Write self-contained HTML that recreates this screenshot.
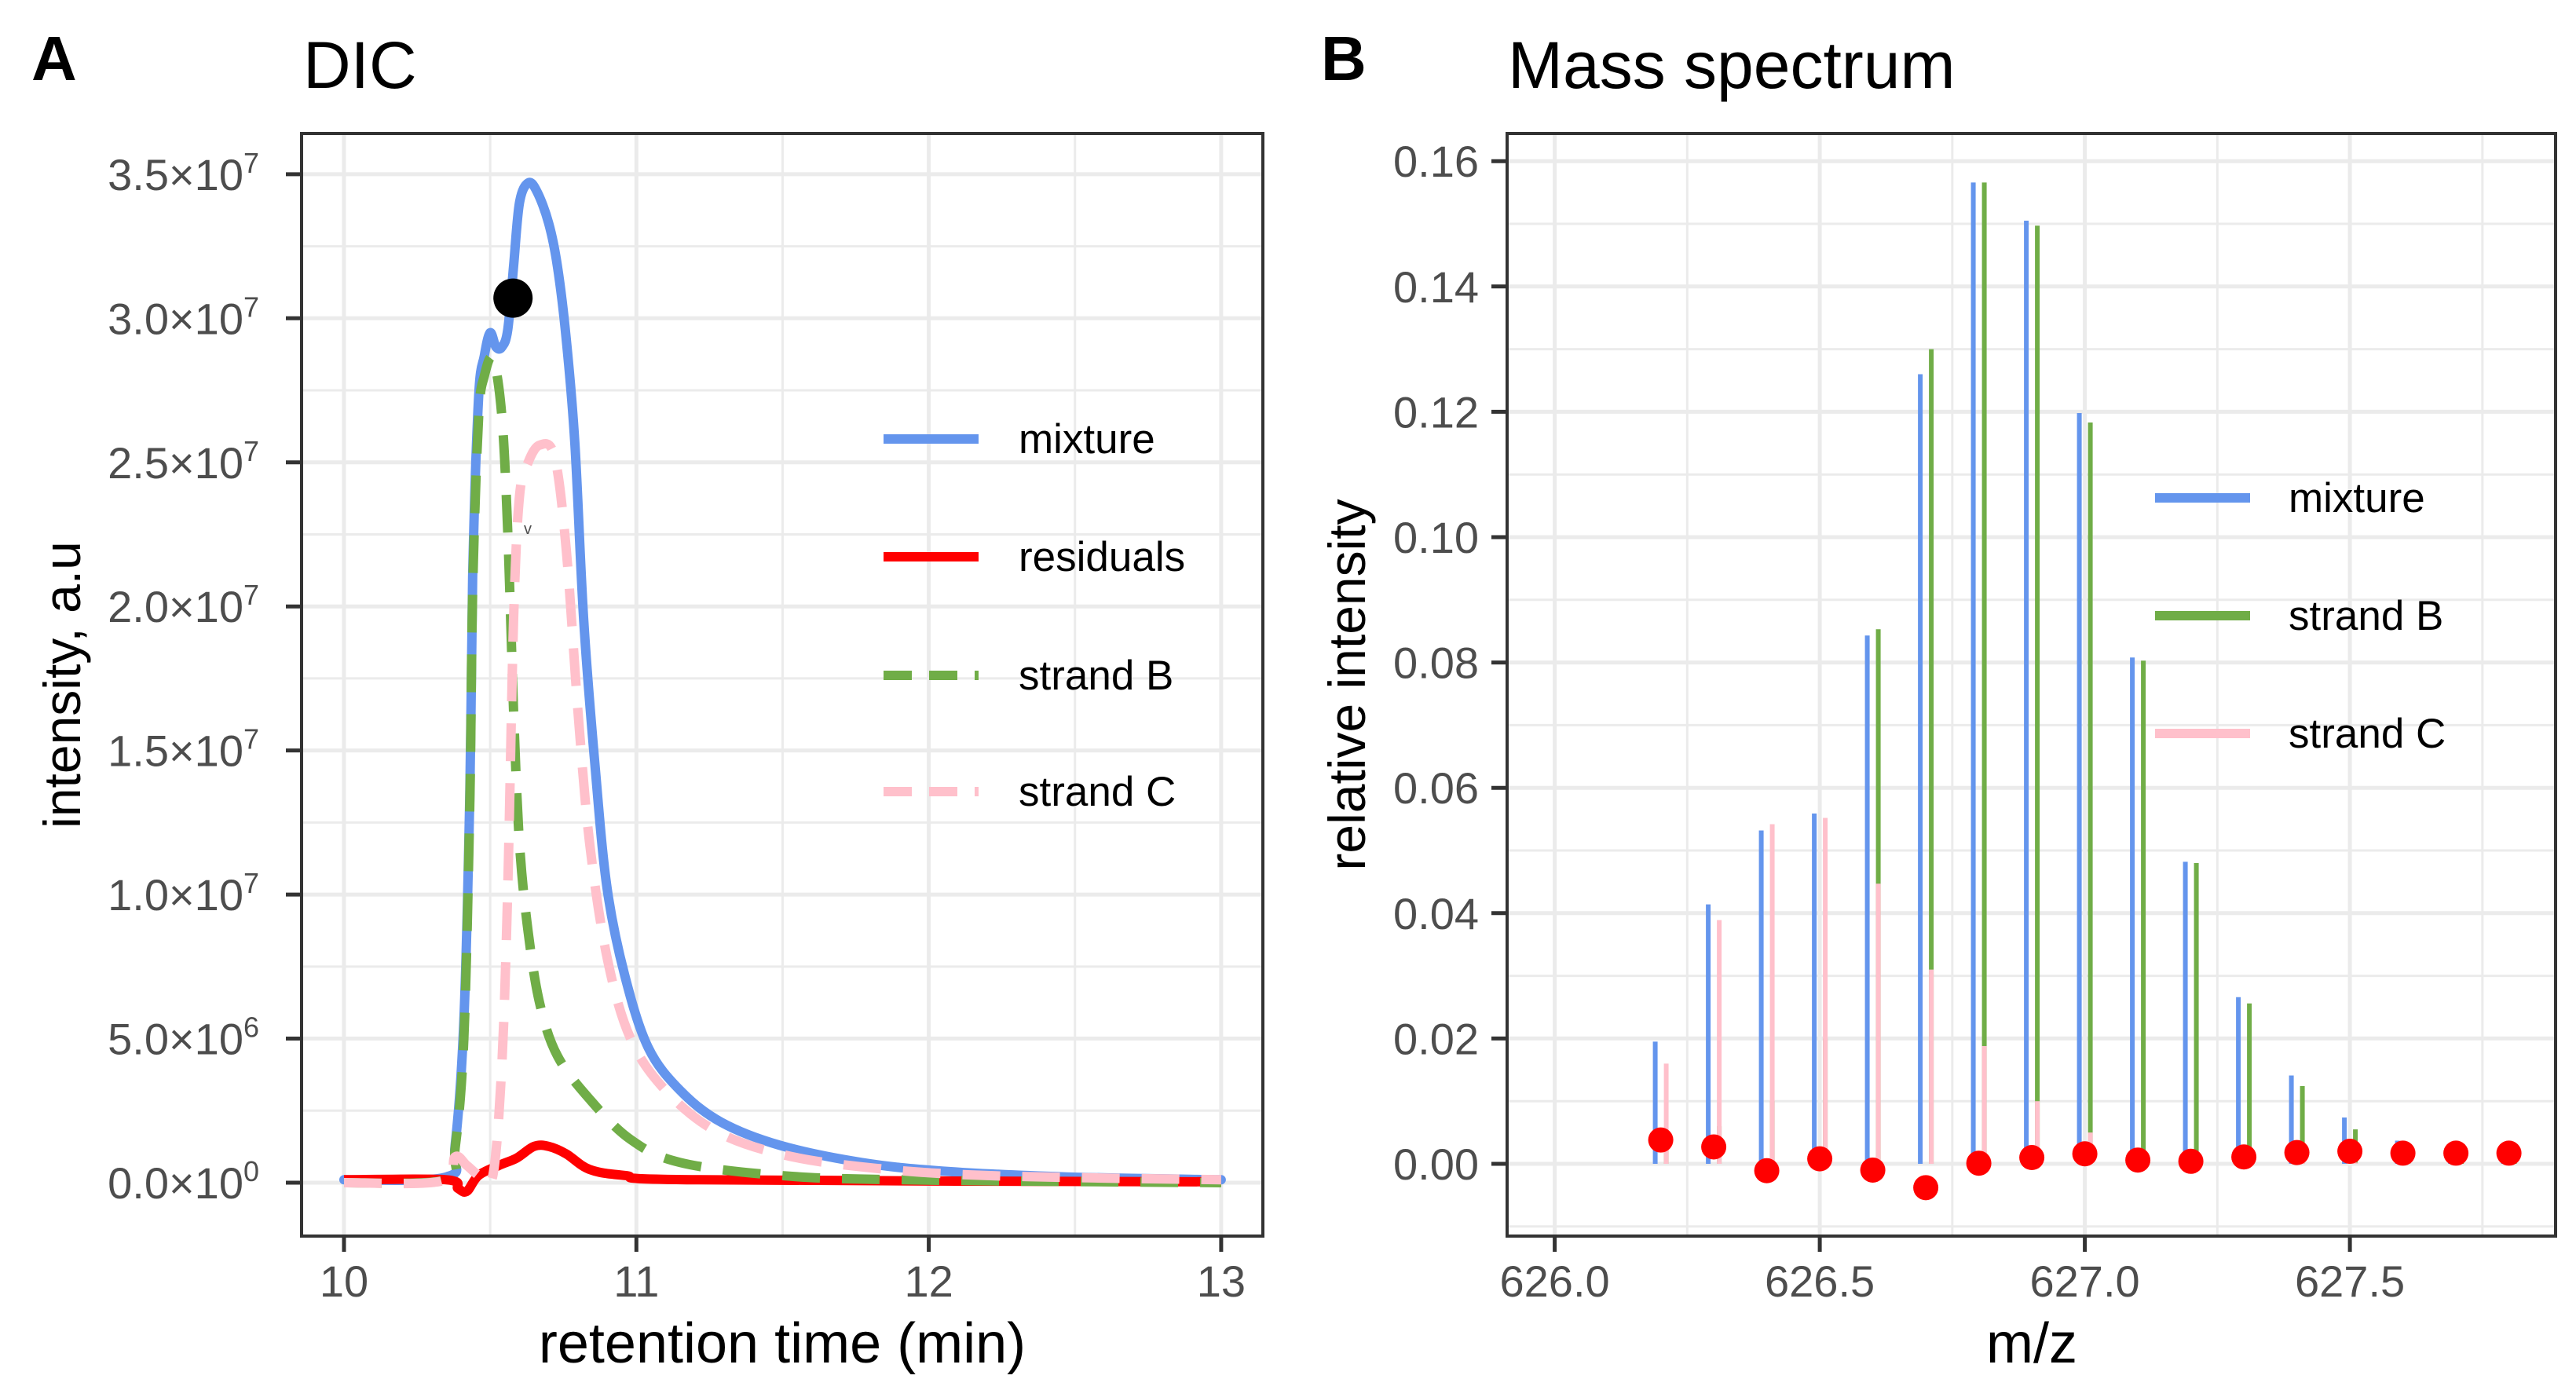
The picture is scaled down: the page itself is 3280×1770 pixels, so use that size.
<!DOCTYPE html>
<html><head><meta charset="utf-8"><style>
html,body{margin:0;padding:0;background:#fff;}
svg{display:block;font-family:"Liberation Sans",Arial,sans-serif;}
</style></head><body>
<svg id="fig" width="3280" height="1770" viewBox="0 0 3280 1770" xmlns="http://www.w3.org/2000/svg">
<rect width="3280" height="1770" fill="#fff"/>
<g id="pa"></g>
<g id="pb"></g>
</svg>
<script>
// ---------- Panel A data ----------
const mixT = [10,10.35,10.38,10.41,10.43,10.44,10.46,10.48,10.50,10.52,10.54,10.56,10.58,10.60,10.63,10.66,10.70,10.73,10.76,10.79,10.82,10.86,10.90,10.96,11.04,11.15,11.29,11.49,11.77,12.05,12.47,13];
const mixV = [0.01,0.02,0.13,0.56,1.33,2.1,2.72,2.87,2.95,2.9,2.9,2.96,3.18,3.4,3.47,3.44,3.33,3.18,2.93,2.56,1.95,1.43,1.02,0.72,0.47,0.32,0.21,0.13,0.07,0.04,0.02,0.01];
const bT = [10,10.35,10.38,10.41,10.43,10.44,10.46,10.48,10.51,10.54,10.56,10.58,10.60,10.63,10.67,10.73,10.84,10.98,11.15,11.49,11.91,13];
const bV = [0,0.01,0.12,0.5,1.3,2.05,2.65,2.8,2.86,2.66,2.26,1.64,1.18,0.87,0.62,0.44,0.29,0.15,0.07,0.025,0.01,0];
const cT = [10,10.33,10.38,10.42,10.47,10.51,10.54,10.56,10.58,10.60,10.63,10.67,10.72,10.76,10.80,10.84,10.90,10.98,11.10,11.27,11.49,11.77,12.19,13];
const cV = [0,0.005,0.09,0.06,0.02,0.03,0.41,1.02,1.95,2.38,2.5,2.56,2.52,2.2,1.64,1.18,0.78,0.5,0.32,0.18,0.1,0.055,0.025,0.01];
const rT = [10,10.35,10.39,10.42,10.46,10.53,10.59,10.65,10.70,10.76,10.84,10.96,11.21,13];
const rV = [0.01,0.01,-0.02,-0.03,0.025,0.06,0.085,0.126,0.126,0.1,0.046,0.025,0.01,0.003];
const peakT = [10.578];
const peakV = [3.07];
const aYTicks = [0,0.5,1,1.5,2,2.5,3,3.5];
const aYLabels = ["0.0","5.0","1.0","1.5","2.0","2.5","3.0","3.5"];
const aYExp = ["0","6","7","7","7","7","7","7"];
const aXTicks = [10,11,12,13];
// ---------- Panel B data ----------
const mz = [626.2,626.3,626.4,626.5,626.6,626.7,626.8,626.9,627.0,627.1,627.2,627.3,627.4,627.5,627.6,627.7,627.8];
const mixI = [0.0195,0.0414,0.0532,0.0559,0.0843,0.126,0.1566,0.1505,0.1198,0.0808,0.0482,0.0266,0.0141,0.0074,0.0037,0.0005,0.0003];
const strandB = [0.003,0.006,0.01,0.02,0.0853,0.130,0.1566,0.1497,0.1183,0.0803,0.048,0.0256,0.0124,0.0055,0.002,0.0005,0.0003];
const strandC = [0.016,0.0389,0.0542,0.0552,0.0447,0.031,0.0188,0.010,0.005,0.002,0.001,0.0005,0.0003,0.0002,0.0001,0,0];
const resid = [0.0038,0.0027,-0.0011,0.0008,-0.001,-0.0038,0.0001,0.001,0.0016,0.0006,0.0004,0.0011,0.0018,0.002,0.0017,0.0017,0.0017];
const bYTicks = [0,0.02,0.04,0.06,0.08,0.10,0.12,0.14,0.16];
const bXTicks = [626.0,626.5,627.0,627.5];

const NS="http://www.w3.org/2000/svg";
function mk(parent,tag,attrs,text){const e=document.createElementNS(NS,tag);for(const k in attrs)e.setAttribute(k,attrs[k]);if(text!==undefined)e.textContent=text;parent.appendChild(e);return e;}

// ---------- Panel A ----------
const A={L:384,R:1608,T:170,B:1574};
const ax=t=>438+(t-10)*372.3;
const ay=v=>1506-v*366.9;
const pa=document.getElementById('pa');
let e;
e=mk(pa,'text',{x:40,y:102,'font-size':80,'font-weight':'bold',fill:'#000'},'A');


e=mk(pa,'text',{x:386,y:112,'font-size':84,fill:'#000'},'DIC');


for(let v=0.25;v<3.6;v+=0.5){e=mk(pa,'line',{x1:A.L,x2:A.R,y1:ay(v),y2:ay(v),stroke:'#ebebeb','stroke-width':3});

}
for(let t=9.5;t<13.2;t+=1){if(ax(t)<A.L)continue;e=mk(pa,'line',{x1:ax(t),x2:ax(t),y1:A.T,y2:A.B,stroke:'#ebebeb','stroke-width':3});

}
aYTicks.forEach((v,i)=>{
 e=mk(pa,'line',{x1:A.L,x2:A.R,y1:ay(v),y2:ay(v),stroke:'#ebebeb','stroke-width':5});
 
 
 e=mk(pa,'line',{x1:A.L-20,x2:A.L,y1:ay(v),y2:ay(v),stroke:'#333','stroke-width':5});
 
 
 const tx=mk(pa,'text',{x:330,y:ay(v)+20,'font-size':56,fill:'#4d4d4d','text-anchor':'end'});
 
 
 mk(tx,'tspan',{},aYLabels[i]+"\u00d710");
 mk(tx,'tspan',{dy:-22,'font-size':36},aYExp[i]);
});
aXTicks.forEach(t=>{
 e=mk(pa,'line',{x1:ax(t),x2:ax(t),y1:A.T,y2:A.B,stroke:'#ebebeb','stroke-width':5});
 
 
 e=mk(pa,'line',{x1:ax(t),x2:ax(t),y1:A.B,y2:A.B+20,stroke:'#333','stroke-width':5});
 
 
 e=mk(pa,'text',{x:ax(t),y:1651,'font-size':56,fill:'#4d4d4d','text-anchor':'middle'},String(t));
 
 
});
const clipA=mk(document.getElementById('fig'),'clipPath',{id:'cA'});
mk(clipA,'rect',{x:A.L,y:A.T,width:A.R-A.L,height:A.B-A.T});
const gA=mk(pa,'g',{'clip-path':'url(#cA)'});
function pathOf(T,V,fx,fy){
 const P=T.map((t,i)=>[fx(t),fy(V[i])]);
 let d='M'+P[0][0].toFixed(1)+','+P[0][1].toFixed(1);
 for(let i=0;i<P.length-1;i++){
  const p0=P[Math.max(0,i-1)],p1=P[i],p2=P[i+1],p3=P[Math.min(P.length-1,i+2)];
  const c1=[p1[0]+(p2[0]-p0[0])/6,p1[1]+(p2[1]-p0[1])/6];
  const c2=[p2[0]-(p3[0]-p1[0])/6,p2[1]-(p3[1]-p1[1])/6];
  d+=' C'+c1[0].toFixed(1)+','+c1[1].toFixed(1)+' '+c2[0].toFixed(1)+','+c2[1].toFixed(1)+' '+p2[0].toFixed(1)+','+p2[1].toFixed(1);
 }
 return d;
}
e=mk(gA,'path',{d:pathOf(mixT,mixV,ax,ay),fill:'none',stroke:'#6495ED','stroke-width':12,'stroke-linejoin':'round','stroke-linecap':'round'});


e=mk(gA,'path',{d:pathOf(rT,rV,ax,ay),fill:'none',stroke:'#FF0000','stroke-width':12,'stroke-linejoin':'round'});


e=mk(gA,'path',{d:pathOf(bT,bV,ax,ay),fill:'none',stroke:'#70AD47','stroke-width':12,'stroke-dasharray':'48 28'});


e=mk(gA,'path',{d:pathOf(cT,cV,ax,ay),fill:'none',stroke:'#FFC0CB','stroke-width':12,'stroke-dasharray':'48 28'});


peakT.forEach((t,i)=>{e=mk(gA,'circle',{cx:ax(t),cy:ay(peakV[i]),r:25,fill:'#000'});

});
e=mk(gA,'text',{x:672,y:680,'font-size':20,fill:'#4d4d4d','text-anchor':'middle'},'v');


e=mk(pa,'rect',{x:A.L,y:A.T,width:A.R-A.L,height:A.B-A.T,fill:'none',stroke:'#333','stroke-width':4});


e=mk(pa,'text',{x:996,y:1735,'font-size':72,fill:'#000','text-anchor':'middle'},'retention time (min)');


e=mk(pa,'text',{x:0,y:0,'font-size':66,fill:'#000','text-anchor':'middle',transform:'translate(102,872) rotate(-90)'},'intensity, a.u');


const legA=[['mixture','#6495ED',null,559],['residuals','#FF0000',null,709],['strand B','#70AD47','36 22',860],['strand C','#FFC0CB','36 22',1008]];
legA.forEach(l=>{
 const g=mk(pa,'g',{});
 
 
 const a={x1:1125,x2:1246,y1:l[3],y2:l[3],stroke:l[1],'stroke-width':12};if(l[2])a['stroke-dasharray']=l[2];
 mk(g,'line',a);
 mk(g,'text',{x:1297,y:l[3]+18,'font-size':53,fill:'#000'},l[0]);
});

// ---------- Panel B ----------
const Bx={L:1919,R:3254,T:170,B:1574};
const bx=m=>1979.6+(m-626)*675;
const by=v=>1482-v*7980;
const pb=document.getElementById('pb');
e=mk(pb,'text',{x:1682,y:102,'font-size':80,'font-weight':'bold',fill:'#000'},'B');


e=mk(pb,'text',{x:1920,y:112,'font-size':84,fill:'#000'},'Mass spectrum');


for(let v=-0.01;v<0.165;v+=0.02){e=mk(pb,'line',{x1:Bx.L,x2:Bx.R,y1:by(v),y2:by(v),stroke:'#ebebeb','stroke-width':3});

}
for(let m=626.25;m<627.9;m+=0.5){e=mk(pb,'line',{x1:bx(m),x2:bx(m),y1:Bx.T,y2:Bx.B,stroke:'#ebebeb','stroke-width':3});

}
bYTicks.forEach(v=>{
 e=mk(pb,'line',{x1:Bx.L,x2:Bx.R,y1:by(v),y2:by(v),stroke:'#ebebeb','stroke-width':5});
 
 
 e=mk(pb,'line',{x1:Bx.L-20,x2:Bx.L,y1:by(v),y2:by(v),stroke:'#333','stroke-width':5});
 
 
 e=mk(pb,'text',{x:1883,y:by(v)+20,'font-size':56,fill:'#4d4d4d','text-anchor':'end'},v.toFixed(2));
 
 
});
bXTicks.forEach(m=>{
 e=mk(pb,'line',{x1:bx(m),x2:bx(m),y1:Bx.T,y2:Bx.B,stroke:'#ebebeb','stroke-width':5});
 
 
 e=mk(pb,'line',{x1:bx(m),x2:bx(m),y1:Bx.B,y2:Bx.B+20,stroke:'#333','stroke-width':5});
 
 
 e=mk(pb,'text',{x:bx(m),y:1651,'font-size':56,fill:'#4d4d4d','text-anchor':'middle'},m.toFixed(1));
 
 
});
mz.forEach((m,i)=>{
 e=mk(pb,'line',{x1:bx(m)-7,x2:bx(m)-7,y1:by(0),y2:by(mixI[i]),stroke:'#6495ED','stroke-width':6});
 
 
 e=mk(pb,'line',{x1:bx(m)+7,x2:bx(m)+7,y1:by(0),y2:by(strandB[i]),stroke:'#70AD47','stroke-width':6});
 
 
 e=mk(pb,'line',{x1:bx(m)+7,x2:bx(m)+7,y1:by(0),y2:by(strandC[i]),stroke:'#FFC0CB','stroke-width':6});
 
 
});
mz.forEach((m,i)=>{
 e=mk(pb,'circle',{cx:bx(m),cy:by(resid[i]),r:16,fill:'#FF0000'});
 
 
});
e=mk(pb,'rect',{x:Bx.L,y:Bx.T,width:Bx.R-Bx.L,height:Bx.B-Bx.T,fill:'none',stroke:'#333','stroke-width':4});


e=mk(pb,'text',{x:2587,y:1735,'font-size':72,fill:'#000','text-anchor':'middle'},'m/z');


e=mk(pb,'text',{x:0,y:0,'font-size':66,fill:'#000','text-anchor':'middle',transform:'translate(1738,872) rotate(-90)'},'relative intensity');


const legB=[['mixture','#6495ED',634],['strand B','#70AD47',784],['strand C','#FFC0CB',934]];
legB.forEach(l=>{
 const g=mk(pb,'g',{});
 
 
 mk(g,'line',{x1:2744,x2:2865,y1:l[2],y2:l[2],stroke:l[1],'stroke-width':12});
 mk(g,'text',{x:2914,y:l[2]+18,'font-size':53,fill:'#000'},l[0]);
});
</script>
</body></html>
